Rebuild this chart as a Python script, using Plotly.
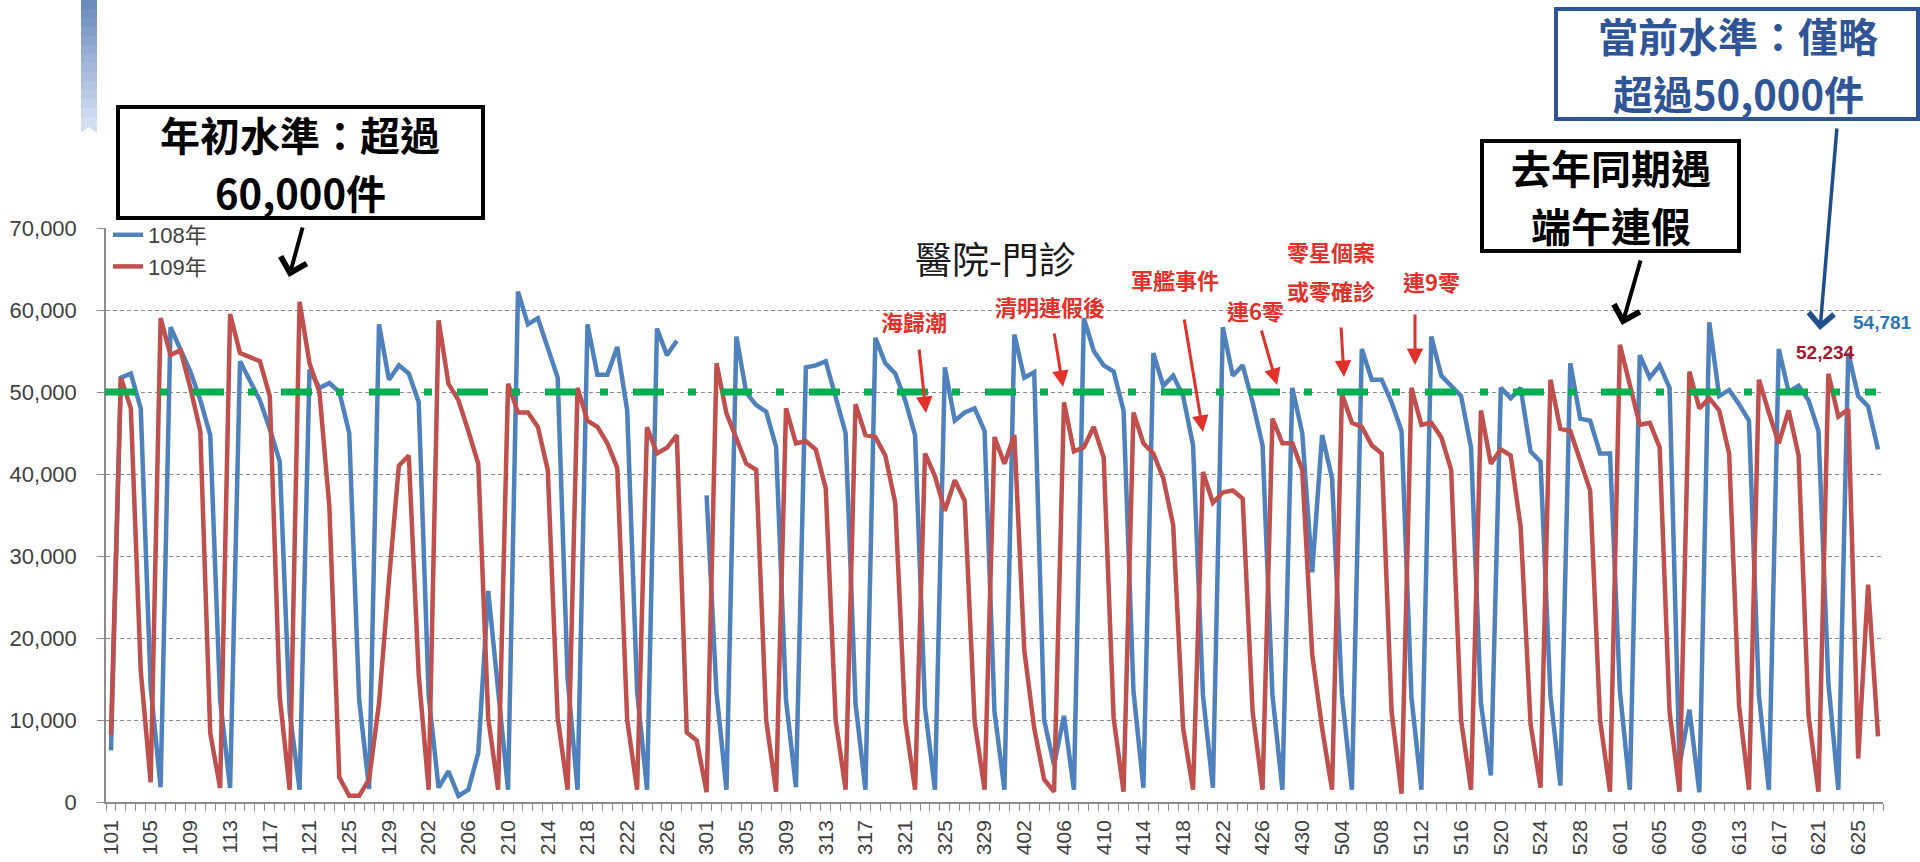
import plotly.graph_objects as go

# ---------------- data ----------------
# x categories: MMDD from 1/1 to 6/27 (calendar incl. 2/29)
month_days = [31, 29, 31, 30, 31, 27]
categories = [f"{m}{d:02d}" for m, n in enumerate(month_days, start=1) for d in range(1, n + 1)]
tick_labels = [c if i % 4 == 0 else "" for i, c in enumerate(categories)]

# 108年 daily outpatient visits (2019 has no 2/29; 2/28 missing)
visits_108 = [
    # Jan
    6300, 51750, 52250, 48000, 14000, 1800, 57900, 55100, 52500, 49000,
    44750, 12400, 1700, 53750, 51250, 49000, 45500, 41500, 11000, 1500,
    52750, 50500, 51100, 50000, 45000, 12500, 1600, 58250, 51500, 53250, 52250,
    # Feb
    48750, 13000, 1750, 3750, 750, 1500, 6000, 25750, 13500, 1500,
    62250, 58250, 59000, 55500, 51750, 15000, 1500, 58250, 52100, 52100,
    55500, 47750, 13500, 1500, 57750, 54500, 56250, None, None,
    # Mar
    37400, 13300, 1500, 56750, 49900, 48400, 47600, 43300, 12400, 1800,
    53000, 53250, 53750, 49500, 45000, 12000, 1500, 56600, 53500, 52250,
    49000, 44750, 11500, 1500, 53000, 46500, 47500, 48000, 45250, 11000, 1500,
    # Apr
    57000, 51750, 52400, 10000, 4500, 10500, 1500, 59000, 55000, 53250,
    52500, 47750, 13500, 1750, 54750, 50750, 52000, 49500, 43500, 13000,
    1750, 57900, 52000, 53250, 48750, 43500, 13000, 1500, 50500, 45000,
    # May
    28000, 44750, 39500, 13000, 1500, 55250, 51500, 51500, 48750, 45250,
    12750, 1500, 56750, 52000, 50750, 49500, 43250, 12000, 3250, 50500,
    49250, 50500, 42750, 41500, 13000, 2000, 53500, 46750, 46500, 42500, 42500,
    # Jun
    13500, 1500, 54500, 51750, 53250, 50500, 4500, 11250, 1200, 58500,
    49500, 50250, 48500, 46500, 13000, 1500, 55250, 50000, 50750, 49000,
    45250, 14500, 1500, 54781, 49500, 48250, 43000,
]

# 109年 daily outpatient visits
visits_109 = [
    # Jan
    8200, 51750, 48000, 16000, 2400, 59000, 54500, 55100, 50500, 45250,
    8400, 1700, 59500, 54750, 54250, 53750, 49500, 12800, 1500, 61000,
    53500, 50000, 36000, 3000, 750, 750, 2750, 12000, 27000, 41000, 42250,
    # Feb
    15500, 1500, 58750, 51000, 49000, 45250, 41250, 10250, 1500, 51000,
    47500, 47500, 45750, 40500, 10250, 1500, 50500, 46500, 45750, 43750,
    40750, 10000, 1500, 45700, 42500, 43200, 44750, 8500, 7500,
    # Mar
    1200, 53500, 47400, 44400, 41250, 40500, 10000, 1250, 48000, 43750,
    44000, 43000, 38250, 10000, 1500, 48500, 44750, 44500, 42250, 36500,
    10000, 1500, 42500, 39750, 35500, 39250, 36750, 9750, 1500, 44500, 41250,
    # Apr
    44750, 18500, 9000, 2750, 1250, 48750, 42750, 43250, 45750, 42000,
    10250, 1250, 47500, 43750, 42500, 39500, 33750, 9000, 1500, 40250,
    36500, 37750, 38000, 37000, 11000, 1500, 46750, 43750, 43750, 40500,
    # May
    18000, 9000, 1500, 49750, 46250, 45750, 43500, 42500, 11000, 1000,
    50500, 46000, 46250, 44500, 40500, 10000, 1500, 47750, 41250, 43000,
    42250, 33500, 9500, 1750, 51500, 45500, 45250, 41500, 38000, 10000, 1250,
    # Jun
    55750, 51000, 46000, 46250, 43250, 11000, 1250, 52500, 48000, 49250,
    47750, 42500, 11750, 1500, 51500, 47500, 43750, 47750, 42250, 10500,
    1250, 52234, 47000, 47900, 5300, 26500, 8000,
]

threshold = 50000
series_names = ["108年", "109年"]
y_ticks = [0, 10000, 20000, 30000, 40000, 50000, 60000, 70000]

# call-out box texts (one entry per line)
box1_lines = ["年初水準：超過", "60,000件"]
box2_lines = ["當前水準：僅略", "超過50,000件"]
box3_lines = ["去年同期遇", "端午連假"]

# red event notes: (text, label centre px, arrow tail px, arrow head px)
events = [
    ("海歸潮", (914, 321), (919, 348), (926, 413)),
    ("清明連假後", (1050, 306), (1054, 332), (1063, 387)),
    ("軍艦事件", (1175, 279), (1184, 318), (1203, 432)),
    ("連6零", (1255, 310), (1261, 329), (1277, 385)),
    ("零星個案", (1331, 251), None, None),
    ("或零確診", (1331, 290), (1341, 326), (1344, 377)),
    ("連9零", (1431, 281), (1415, 313), (1415, 365)),
]

# ---------------- geometry helpers ----------------
W, H = 1920, 862
L, R, T, B = 106, 1883, 228, 802


def px(x):
    return (x - L) / (R - L)


def py(y):
    return (B - y) / (B - T)


CJK = "Noto Sans CJK TC, Noto Sans CJK SC, sans-serif"
NUM = "Liberation Sans, Noto Sans CJK TC, sans-serif"

fig = go.Figure()
fig.add_trace(go.Scatter(
    x=categories, y=visits_108, name=series_names[0], mode="lines",
    line=dict(color="#4F81BD", width=4.5), connectgaps=False,
    legendgroup="a",
))
fig.add_trace(go.Scatter(
    x=categories, y=visits_109, name=series_names[1], mode="lines",
    line=dict(color="#C0504D", width=4.5),
    legendgroup="b",
))

shapes = []
# green dash-dot threshold line
shapes.append(dict(
    type="line", xref="paper", yref="y", x0=px(105), x1=px(1876),
    y0=threshold, y1=threshold,
    line=dict(color="#00B050", width=7, dash="31px,24px,8px,25px"),
    layer="above",
))

# decorative ribbon top-left (gradient by slices)
top_c = (0x6B, 0x8B, 0xBF)
bot_c = (0xD3, 0xDF, 0xF2)
n = 14
for k in range(n):
    t = k / (n - 1)
    c = tuple(int(top_c[j] + (bot_c[j] - top_c[j]) * t) for j in range(3))
    y0 = k * 126 / n
    y1 = (k + 1) * 126 / n + 0.6
    shapes.append(dict(
        type="rect", xref="paper", yref="paper",
        x0=px(81), x1=px(97), y0=py(y0), y1=py(y1),
        line=dict(width=0), fillcolor="rgb(%d,%d,%d)" % c, layer="above",
    ))
path = "M{},{} L{},{} L{},{} L{},{} L{},{} Z".format(
    px(81), py(125), px(97), py(125), px(97), py(133), px(89), py(127), px(81), py(133))
shapes.append(dict(type="path", xref="paper", yref="paper", path=path,
                   line=dict(width=0), fillcolor="rgb(%d,%d,%d)" % bot_c, layer="above"))

# call-out boxes
shapes.append(dict(type="rect", xref="paper", yref="paper",
                   x0=px(118), x1=px(483), y0=py(218), y1=py(107),
                   line=dict(color="black", width=4), fillcolor="white", layer="above"))
shapes.append(dict(type="rect", xref="paper", yref="paper",
                   x0=px(1556), x1=px(1918), y0=py(119), y1=py(9),
                   line=dict(color="#2F5597", width=4), fillcolor="white", layer="above"))
shapes.append(dict(type="rect", xref="paper", yref="paper",
                   x0=px(1482), x1=px(1739), y0=py(251), y1=py(141),
                   line=dict(color="black", width=4), fillcolor="rgba(0,0,0,0)", layer="above"))

annotations = []


def text_ann(txt, cx, cy, size, color, bold=False, family=CJK):
    annotations.append(dict(
        text=txt, xref="paper", yref="paper", x=px(cx), y=py(cy),
        xanchor="center", yanchor="middle", showarrow=False,
        font=dict(family=family, size=size, color=color,
                  weight="bold" if bold else "normal"),
    ))


def box_text(lines, cx, cy, size, color, gap):
    text_ann(lines[0], cx, cy - gap / 2, size, color, bold=True)
    text_ann(lines[1], cx, cy + gap / 2, size, color, bold=True)


def arrow_ann(tail, head, color, width, head_style, size):
    annotations.append(dict(
        text="", xref="paper", yref="paper", x=px(head[0]), y=py(head[1]),
        ax=tail[0] - head[0], ay=tail[1] - head[1], axref="pixel", ayref="pixel",
        showarrow=True, arrowhead=head_style, arrowwidth=width, arrowsize=size,
        arrowcolor=color, standoff=0, startstandoff=0,
    ))


box_text(box1_lines, 300, 163, 40, "black", 58)
box_text(box2_lines, 1738, 64, 40, "#2F5597", 58)
box_text(box3_lines, 1611, 196, 40, "black", 58)
text_ann("醫院-門診", 995, 258, 37, "#1a1a1a")

arrow_ann((303, 226), (289, 277), "black", 4, 4, 1.3)
arrow_ann((1641, 259), (1622, 325), "black", 4, 4, 1.3)
arrow_ann((1837, 127), (1820, 330), "#1F4E8C", 3.5, 4, 1.4)

for label, c, tail, head in events:
    text_ann(label, c[0], c[1], 22, "#E2312B", bold=True)
    if tail is not None:
        arrow_ann(tail, head, "#E2312B", 3, 2, 1.1)

text_ann("52,234", 1825, 352, 19, "#A3192C", bold=True, family=NUM)
text_ann("54,781", 1882, 322, 19, "#2E75B6", bold=True, family=NUM)

fig.update_layout(
    width=W, height=H,
    margin=dict(l=L, r=W - R, t=T, b=H - B, autoexpand=False),
    paper_bgcolor="white", plot_bgcolor="white",
    font=dict(family=CJK, color="#404040"),
    showlegend=True,
    legend=dict(
        x=px(108), y=py(214), xanchor="left", yanchor="top",
        bgcolor="rgba(0,0,0,0)", borderwidth=0,
        font=dict(family=NUM, size=22, color="#404040"),
        tracegroupgap=9, traceorder="normal",
    ),
    shapes=shapes,
    annotations=annotations,
    hovermode=False,
)
fig.update_xaxes(
    type="category", categoryorder="array", categoryarray=categories,
    range=[-0.5, len(categories) - 0.5],
    tickmode="array", tickvals=categories, ticktext=tick_labels,
    tickson="boundaries", ticks="outside", ticklen=7, tickcolor="#8C8C8C",
    tickangle=-90, tickfont=dict(family=NUM, size=21, color="#404040"),
    ticklabelstandoff=8,
    showgrid=False, showline=True, linecolor="#8C8C8C", linewidth=1.5,
    zeroline=False,
)
fig.update_yaxes(
    range=[0, 70000], tickmode="array", tickvals=y_ticks,
    tickformat=",", ticks="outside", ticklen=7, tickcolor="#8C8C8C",
    tickfont=dict(family=NUM, size=22, color="#404040"),
    ticklabelstandoff=16,
    showgrid=True, gridcolor="#8A8A8A", gridwidth=1, griddash="4px,3px",
    showline=True, linecolor="#8C8C8C", linewidth=1.5, zeroline=False,
)

fig.write_html(
    "out.html",
    config={"displayModeBar": False},
    post_script="document.body.style.margin='0';document.body.style.overflow='hidden';",
)
